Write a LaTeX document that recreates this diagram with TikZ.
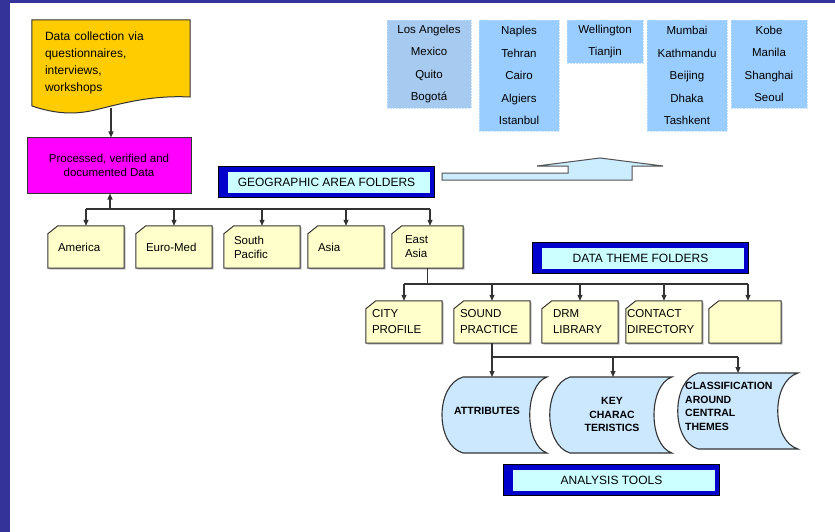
\documentclass[tikz,border=0pt]{standalone}
\usepackage{fontspec}
\setmainfont{Liberation Sans}
\usetikzlibrary{arrows.meta,calc}
\pgfdeclarelayer{bg}
\pgfsetlayers{bg,main}
\definecolor{slide}{HTML}{333399}
\definecolor{docgold}{HTML}{FFCC00}
\definecolor{mag}{HTML}{FF00FF}
\definecolor{folderfill}{HTML}{FFFFCC}
\definecolor{cityA}{HTML}{A6CAF0}
\definecolor{cityB}{HTML}{99CCFF}
\definecolor{storefill}{HTML}{CCE8FF}
\definecolor{titleblue}{HTML}{0000CC}
\definecolor{titlecyan}{HTML}{CCFFFF}
\definecolor{arrowfill}{HTML}{CCECFF}
\definecolor{ink}{HTML}{333333}
\newcommand\foldershape[1]{%
 \fill[black!25] ([shift={(1.5,1.5)}]#1.south west) -- ([shift={(1.5,9.5)}]#1.north west) -- ([shift={(11.5,1.5)}]#1.north west) -- ([shift={(1.5,1.5)}]#1.north east) -- ([shift={(1.5,1.5)}]#1.south east) -- cycle;
 \filldraw[foldline] (#1.south west) -- ([yshift=-8pt]#1.north west) -- ([xshift=10pt]#1.north west) -- (#1.north east) -- (#1.south east) -- cycle;}
\newcommand\titleframe[1]{\fill[titleblue] (#1.north west) rectangle (#1.south east);
 \fill[titlecyan] ([shift={(9,5)}]#1.north west) rectangle ([shift={(-4,-4)}]#1.south east);
 \draw[black, line width=0.8pt] (#1.north west) rectangle (#1.south east);}
\begin{document}
\begin{tikzpicture}[x=1pt,y=-1pt,
  every node/.style={inner sep=0pt, font=\fontsize{11.5}{14}\selectfont},
  foldline/.style={fill=folderfill, draw=ink, line width=1pt},
  folderbox/.style={minimum width=76pt, minimum height=42pt, text width=56pt, align=left},
  themebox/.style={minimum width=76pt, minimum height=42pt, align=left, font=\fontsize{11.5}{16}\selectfont},
  citybox/.style={draw=white!45!cityB, dash pattern=on 1.5pt off 1.5pt, line width=0.5pt, align=center, font=\fontsize{11.5}{22.5}\selectfont},
  titlebox/.style={minimum width=215pt, minimum height=30pt, font=\fontsize{12}{14}\selectfont},
  conn/.style={draw=ink, line width=1.2pt},
  arr/.style={conn, -{Triangle[length=6pt,width=5pt]}},
  storeline/.style={fill=storefill, draw=ink, line width=1.1pt},
  storetext/.style={font=\bfseries\fontsize{10.5}{13.5}\selectfont, anchor=north}
]
\useasboundingbox (0,0) rectangle (835,532);
\begin{pgfonlayer}{bg}
\fill[slide] (0,0) rectangle (835,532);
\fill[white] (10,3) rectangle (835,532);
\end{pgfonlayer}

% data source
\node[minimum width=158pt, minimum height=86pt, text width=132pt, align=left, font=\fontsize{12}{17}\selectfont] (doc) at (111,63) {Data collection via\\questionnaires,\\interviews,\\workshops};
\node[fill=mag, draw=ink, line width=1pt, minimum width=164pt, minimum height=55pt, align=center] (mag) at (109,165.5) {Processed, verified and\\documented Data};

% geographic folders
\node[folderbox] (am) at (86,247) {America};
\node[folderbox] (em) at (174,247) {Euro-Med};
\node[folderbox] (spc) at (262,247) {South\\Pacific};
\node[folderbox] (as) at (346,247) {Asia};
\node[folderbox, minimum width=71pt, text width=45pt] (ea) at (427.5,247) {East\\Asia};

% titles
\node[titlebox] (geo) at (326.5,182) {GEOGRAPHIC AREA FOLDERS};
\node[titlebox] (dtf) at (640.5,258) {DATA THEME FOLDERS};
\node[titlebox] (ana) at (611.5,480) {ANALYSIS TOOLS};

% cities
\node[citybox, fill=cityA, minimum width=84pt, minimum height=88pt] (c1) at (429,64) {Los Angeles\\Mexico\\Quito\\Bogotá};
\node[citybox, fill=cityB, minimum width=80pt, minimum height=111pt] (c2) at (519,75.5) {Naples\\Tehran\\Cairo\\Algiers\\Istanbul};
\node[citybox, fill=cityB, minimum width=76pt, minimum height=43pt] (c3) at (605,41.5) {Wellington\\Tianjin};
\node[citybox, fill=cityB, minimum width=80pt, minimum height=111pt] (c4) at (687,75.5) {Mumbai\\Kathmandu\\Beijing\\Dhaka\\Tashkent};
\node[citybox, fill=cityB, minimum width=76pt, minimum height=88pt] (c5) at (769,64) {Kobe\\Manila\\Shanghai\\Seoul};

% theme folders
\node[themebox, text width=64pt] (cp) at (404,322) {CITY\\PROFILE};
\node[themebox, text width=64pt] (sp) at (492,322) {SOUND\\PRACTICE};
\node[themebox, text width=54pt] (drm) at (580,322) {DRM\\LIBRARY};
\node[themebox, text width=74pt] (ct) at (664,322) {CONTACT\\DIRECTORY};
\node[themebox, minimum width=72pt] (blank) at (745,322) {};

% analysis shapes
\node[storetext, minimum height=68pt] (attr) at (487,377) {ATTRIBUTES};
\node[storetext, minimum height=75pt, align=center] (key) at (612,377) {KEY\\CHARAC\\TERISTICS};
\node[storetext, anchor=north west, minimum height=66pt, align=left] (cls) at (685,373) {CLASSIFICATION\\AROUND\\CENTRAL\\THEMES};

% background shapes
\begin{pgfonlayer}{bg}
\filldraw[fill=docgold, draw=ink, line width=1pt] (doc.north west) -- (doc.north east) -- (190,97) .. controls (150,95) and (120,104) .. (95,110) .. controls (70,116) and (50,112) .. (32,106) -- cycle;
\foldershape{am}\foldershape{em}\foldershape{spc}\foldershape{as}\foldershape{ea}
\foldershape{cp}\foldershape{sp}\foldershape{drm}\foldershape{ct}\foldershape{blank}
\titleframe{geo}\titleframe{dtf}\titleframe{ana}
\filldraw[storeline] (463,377) -- (547,377) .. controls (524,385) and (524,445) .. (547,453) -- (463,453) .. controls (435,445) and (435,385) .. cycle;
\filldraw[storeline] (570,377) -- (672,377) .. controls (648,385) and (648,445) .. (672,453) -- (570,453) .. controls (543,445) and (543,385) .. cycle;
\filldraw[storeline] (698,373) -- (798,373) .. controls (771,381) and (771,441) .. (798,449) -- (698,449) .. controls (671,441) and (671,381) .. cycle;
\end{pgfonlayer}

% big bent arrow
\filldraw[fill=arrowfill, draw=ink!85, line width=1pt] (442,173) -- (568,173) -- (568,166) -- (537,166) -- (600,158) -- (663,166) -- (632,166) -- (632,180) -- (442,180) -- cycle;

% connectors
\draw[arr] ([yshift=-2pt]doc.south) -- (doc.south |- mag.north);
\coordinate (gbus) at (110,209);
\coordinate (gL) at (86,209);
\coordinate (gR) at (430,209);
\draw[conn] (gL) -- (gR);
\draw[arr] (gbus) -- (gbus |- mag.south);
\draw[arr] (gL) -- (am.north);
\draw[arr] (em.north |- gL) -- (em.north);
\draw[arr] (spc.north |- gL) -- (spc.north);
\draw[arr] (as.north |- gL) -- (as.north);
\draw[arr] (gR) -- (gR |- ea.north);

\coordinate (tL) at (404,284);
\coordinate (tR) at (748,284);
\draw[conn] (ea.south) -- (ea.south |- tL);
\draw[conn] (tL) -- (tR);
\draw[arr] (tL) -- (cp.north);
\draw[arr] (sp.north |- tL) -- (sp.north);
\draw[arr] (drm.north |- tL) -- (drm.north);
\draw[arr] (ct.north |- tL) -- (ct.north);
\draw[arr] (tR) -- (tR |- blank.north);

\coordinate (sL) at (492,357);
\coordinate (sM) at (613,357);
\coordinate (sR) at (738,357);
\draw[conn] (sp.south) -- (sL) -- (sR);
\draw[arr] (sL) -- (sL |- attr.north);
\draw[arr] (sM) -- (sM |- key.north);
\draw[arr] (sR) -- (sR |- cls.north);
\end{tikzpicture}
\end{document}
